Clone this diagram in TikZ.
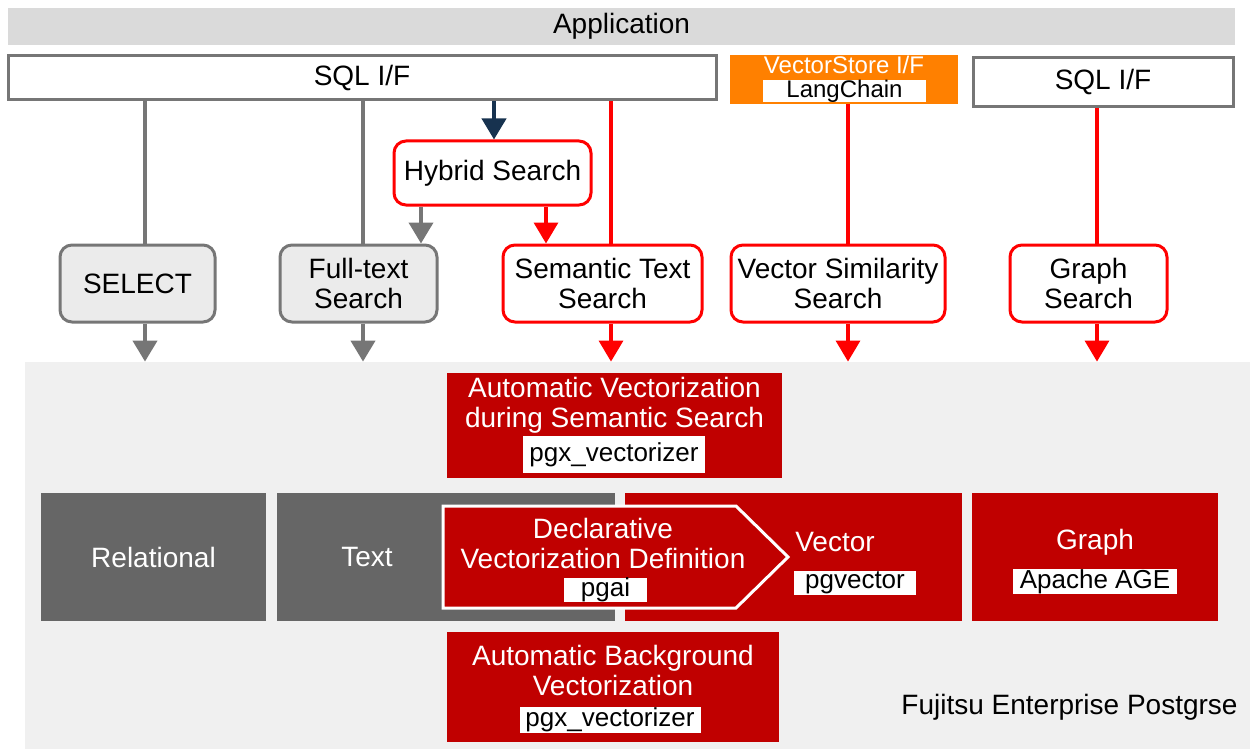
\documentclass[tikz,border=0pt]{standalone}
\usepackage{fontspec}
\setmainfont{Liberation Sans}
\usetikzlibrary{arrows.meta,positioning}

\definecolor{bandgray}{HTML}{DADADA}
\definecolor{basegray}{HTML}{F0F0F0}
\definecolor{ifgray}{HTML}{767676}
\definecolor{nodegray}{HTML}{EBEBEB}
\definecolor{storegray}{HTML}{666666}
\definecolor{storered}{HTML}{C00000}
\definecolor{linkred}{HTML}{FF0000}
\definecolor{linknavy}{HTML}{17324F}
\definecolor{lcorange}{HTML}{FF8000}

\newcommand\dgfont{\fontsize{14}{15}\selectfont}
\newcommand\dgsmall{\fontsize{13}{15}\selectfont}
\newcommand\dgtiny{\fontsize{12}{13}\selectfont}

\tikzset{
>={Triangle[width=12pt,length=10.5pt]},
  band/.style={
    rectangle,
    fill=bandgray,
    minimum width=613.5pt,
    minimum height=18.5pt,
    inner sep=0pt,
    font=\dgfont},
  ifbox/.style={
    rectangle,
    draw=ifgray, line width=1.5pt,
    fill=white,
    inner sep=0pt,
    font=\dgfont},
  orangebox/.style={
    rectangle,
    fill=lcorange,
    inner sep=0pt},
  search/.style={
    rectangle,
    rounded corners=6pt,
    line width=1.5pt,
    minimum height=38.5pt,
    inner sep=0pt,
    align=center,
    font=\dgfont},
  plainsearch/.style={search, draw=ifgray, fill=nodegray},
  redsearch/.style={search, draw=linkred, fill=white},
  store/.style={
    rectangle,
    inner sep=0pt,
    minimum height=64pt},
  graystore/.style={store, fill=storegray},
  redstore/.style={store, fill=storered},
  vecbox/.style={
    rectangle,
    fill=storered,
    inner sep=0pt},
  whitetext/.style={
    text=white,
    inner sep=0pt,
    align=center,
    font=\dgfont},
  tag/.style={
    rectangle,
    fill=white,
    inner sep=0pt,
    font=\dgsmall},
  grayline/.style={draw=ifgray, line width=2pt},
  redline/.style={draw=linkred, line width=1.7pt},
  navyline/.style={draw=linknavy, line width=2pt}
}

\begin{document}
\begin{tikzpicture}[x=0.5pt, y=-0.5pt]
  \useasboundingbox (0,0) rectangle (1259,749);

  % database layer
  \node[rectangle, fill=basegray, minimum width=612.5pt, minimum height=193.5pt,
    inner sep=0pt] (base) at (637.5,555.5) {};

  % interfaces
  \node[band] (app) at (621.5,26.5) {\raisebox{-1.5pt}{Application}};
  \node[ifbox, minimum width=354pt, minimum height=22pt] (sqlL) at (362,78) {\raisebox{-1.5pt}{SQL I/F}};
  \node[orangebox, minimum width=114pt, minimum height=24.5pt] (vsif) at (844,79.5) {};
  \node[whitetext, font=\dgtiny] (vsifT) at (844,65) {VectorStore I/F};
  \node[tag, font=\dgtiny, minimum width=81.5pt, minimum height=11pt] (lang) at (844.5,91) {LangChain};
  \node[ifbox, minimum width=130pt, minimum height=24.5pt] (sqlR) at (1103,82.5) {\raisebox{-1.5pt}{SQL I/F}};

  % search functions
  \node[redsearch, minimum width=98.5pt, minimum height=32pt] (hybrid) at (492.5,173) {\raisebox{-1.5pt}{Hybrid Search}};
  \node[plainsearch, minimum width=77.5pt] (select) at (137.5,283.5) {SELECT};
  \node[plainsearch, minimum width=78.5pt] (fulltext) at (358.5,283.5) {Full-text\\Search};
  \node[redsearch, minimum width=99.5pt] (semantic) at (602.5,283.5) {Semantic Text\\Search};
  \node[redsearch, minimum width=107pt] (vecsim) at (838,283.5) {Vector Similarity\\Search};
  \node[redsearch, minimum width=78.5pt] (graphsearch) at (1088.5,283.5) {Graph\\Search};

  \coordinate (xsel) at (145,0);
  \coordinate (xfull) at (363,0);
  \coordinate (xhyb) at (494,0);
  \coordinate (xhybfull) at (421,0);
  \coordinate (xhybsem) at (546,0);
  \coordinate (xsem) at (611,0);
  \coordinate (xvec) at (848,0);
  \coordinate (xgraph) at (1097,0);

  \draw[grayline] (sqlL.south -| xsel) -- (select.north -| xsel);
  \draw[grayline] (sqlL.south -| xfull) -- (fulltext.north -| xfull);
  \draw[navyline, ->] (sqlL.south -| xhyb) -- (hybrid.north -| xhyb);
  \draw[redline] (sqlL.south -| xsem) -- (semantic.north -| xsem);
  \draw[grayline, ->] (hybrid.south -| xhybfull) -- (fulltext.north -| xhybfull);
  \draw[redline, ->] (hybrid.south -| xhybsem) -- (semantic.north -| xhybsem);
  \draw[redline] (vsif.south -| xvec) -- (vecsim.north -| xvec);
  \draw[redline] (sqlR.south -| xgraph) -- (graphsearch.north -| xgraph);

  \draw[grayline, ->] (select.south -| xsel) -- (base.north -| xsel);
  \draw[grayline, ->] (fulltext.south -| xfull) -- (base.north -| xfull);
  \draw[redline, ->] (semantic.south -| xsem) -- (base.north -| xsem);
  \draw[redline, ->] (vecsim.south -| xvec) -- (base.north -| xvec);
  \draw[redline, ->] (graphsearch.south -| xgraph) -- (base.north -| xgraph);

  % vectorization at search time
  \node[vecbox, minimum width=167.5pt, minimum height=52.5pt] (autovec) at (614.5,425.5) {};
  \node[whitetext] (autovecT) at (614.5,405) {Automatic Vectorization\\during Semantic Search};
  \node[tag, minimum width=91pt, minimum height=18.5pt] (autovecL) at (614,454.5) {pgx\_vectorizer};

  % stores
  \node[graystore, minimum width=112.5pt] (relational) at (153.5,557) {};
  \node[whitetext] (relationalT) at (153.5,557) {Relational};
  \node[graystore, minimum width=169pt] (textstore) at (446,557) {};
  \node[whitetext] (textstoreT) at (367,557) {Text};
  \node[redstore, minimum width=168.5pt] (vector) at (793.5,557) {};
  \node[whitetext] (vectorT) at (835,542) {Vector};
  \node[tag, minimum width=61pt, minimum height=12pt] (vectorL) at (855,583) {pgvector};
  \node[redstore, minimum width=123pt] (graph) at (1095,557) {};
  \node[whitetext] (graphT) at (1095,542) {Graph};
  \node[tag, minimum width=82pt, minimum height=11.5pt] (graphL) at (1095,581.5) {Apache AGE};

  % declarative definition
  \draw[fill=storered, draw=white, line width=1.5pt]
    (443,506) -- (736,506) -- (788,557) -- (736,608) -- (443,608) -- cycle;
  \node[whitetext] (declT) at (603,543) {Declarative\\Vectorization Definition};
  \node[tag, minimum width=41.5pt, minimum height=12pt] (declL) at (605.5,590) {pgai};

  % vectorization in background
  \node[vecbox, minimum width=166pt, minimum height=55pt] (autobg) at (613,687) {};
  \node[whitetext] (autobgT) at (613,670) {Automatic Background\\Vectorization};
  \node[tag, minimum width=90.5pt, minimum height=13pt] (autobgL) at (610,720) {pgx\_vectorizer};

  \node[inner sep=0pt, font=\dgfont, anchor=east] (fep) at (1238,707) {Fujitsu Enterprise Postgrse};
\end{tikzpicture}
\end{document}
